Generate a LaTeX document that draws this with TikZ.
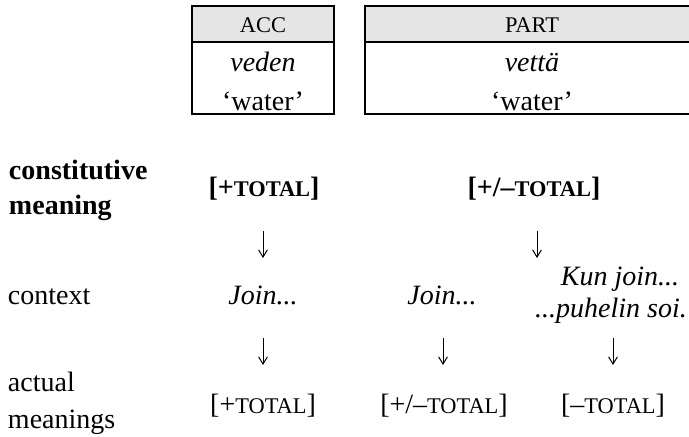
\documentclass[tikz,border=0pt]{standalone}
\usepackage{fontspec}
\setmainfont{Liberation Serif}
\usetikzlibrary{arrows.meta}
% reduced capitals standing in for small caps
\newcommand\smallcap[1]{{\fontsize{11.2pt}{13pt}\selectfont #1}}
\begin{document}
\begin{tikzpicture}[x=0.5pt,y=-0.5pt,
  txt/.style={inner sep=0pt,outer sep=0pt,font=\fontsize{14pt}{17pt}\selectfont,anchor=base},
  lbl/.style={txt,anchor=base west},
  hdr/.style={fill=black!10,draw=none},
  frame/.style={draw=black,line width=0.55pt},
  dn/.style={draw=black,line width=0.5pt,-{Straight Barb[length=3.6pt,width=4.4pt,line width=0.5pt]}}]
\useasboundingbox (0,0) rectangle (689,437);

% case forms
\fill[hdr] (192,6) rectangle (334,42);
\fill[hdr] (365,6) rectangle (700,42);
\draw[frame] (192,6) rectangle (334,114);
\draw[frame] (192,42) -- (334,42);
\draw[frame] (365,6) rectangle (700,114);
\draw[frame] (365,42) -- (700,42);
\node[txt] (acc) at (263,33) {\smallcap{ACC}};
\node[txt] (accform) at (263,72) {\itshape veden};
\node[txt] (accgloss) at (263,111) {‘water’};
\node[txt] (part) at (532,33) {\smallcap{PART}};
\node[txt] (partform) at (532,72) {\itshape vettä};
\node[txt] (partgloss) at (532,111) {‘water’};

% row labels
\node[lbl,font=\fontsize{14pt}{17pt}\selectfont\bfseries] (cm1) at (9,180) {constitutive};
\node[lbl,font=\fontsize{14pt}{17pt}\selectfont\bfseries] (cm2) at (9,215) {meaning};
\node[lbl] (ctx) at (8,305) {context};
\node[lbl] (am1) at (8,392) {actual};
\node[lbl] (am2) at (8,428) {meanings};

% constitutive meanings
\node[txt,font=\fontsize{14pt}{17pt}\selectfont\bfseries] (cacc) at (264,197) {[+\smallcap{TOTAL}]};
\node[txt,font=\fontsize{14pt}{17pt}\selectfont\bfseries] (cpart) at (534,197) {[+/–\smallcap{TOTAL}]};

% contexts
\node[txt,font=\fontsize{14pt}{17pt}\selectfont\itshape] (j1) at (263,305) {Join...};
\node[txt,font=\fontsize{14pt}{17pt}\selectfont\itshape] (j2) at (442,305) {Join...};
\node[txt,font=\fontsize{14pt}{17pt}\selectfont\itshape] (k1) at (620,286) {Kun join...};
\node[txt,font=\fontsize{14pt}{17pt}\selectfont\itshape] (k2) at (611,318) {...puhelin soi.};

% actual meanings
\node[txt] (r1) at (263,413) {[+\smallcap{TOTAL}]};
\node[txt] (r2) at (444,413) {[+/–\smallcap{TOTAL}]};
\node[txt] (r3) at (613,413) {[–\smallcap{TOTAL}]};

% downward arrows between the rows
\coordinate (a1s) at (263,231); \coordinate (a1e) at (263,258);
\coordinate (a2s) at (537,231); \coordinate (a2e) at (537,258);
\coordinate (b1s) at (263,338); \coordinate (b1e) at (263,365);
\coordinate (b2s) at (443,338); \coordinate (b2e) at (443,365);
\coordinate (b3s) at (613,338); \coordinate (b3e) at (613,365);
\draw[dn] (a1s) -- (a1e);
\draw[dn] (a2s) -- (a2e);
\draw[dn] (b1s) -- (b1e);
\draw[dn] (b2s) -- (b2e);
\draw[dn] (b3s) -- (b3e);
\end{tikzpicture}
\end{document}
